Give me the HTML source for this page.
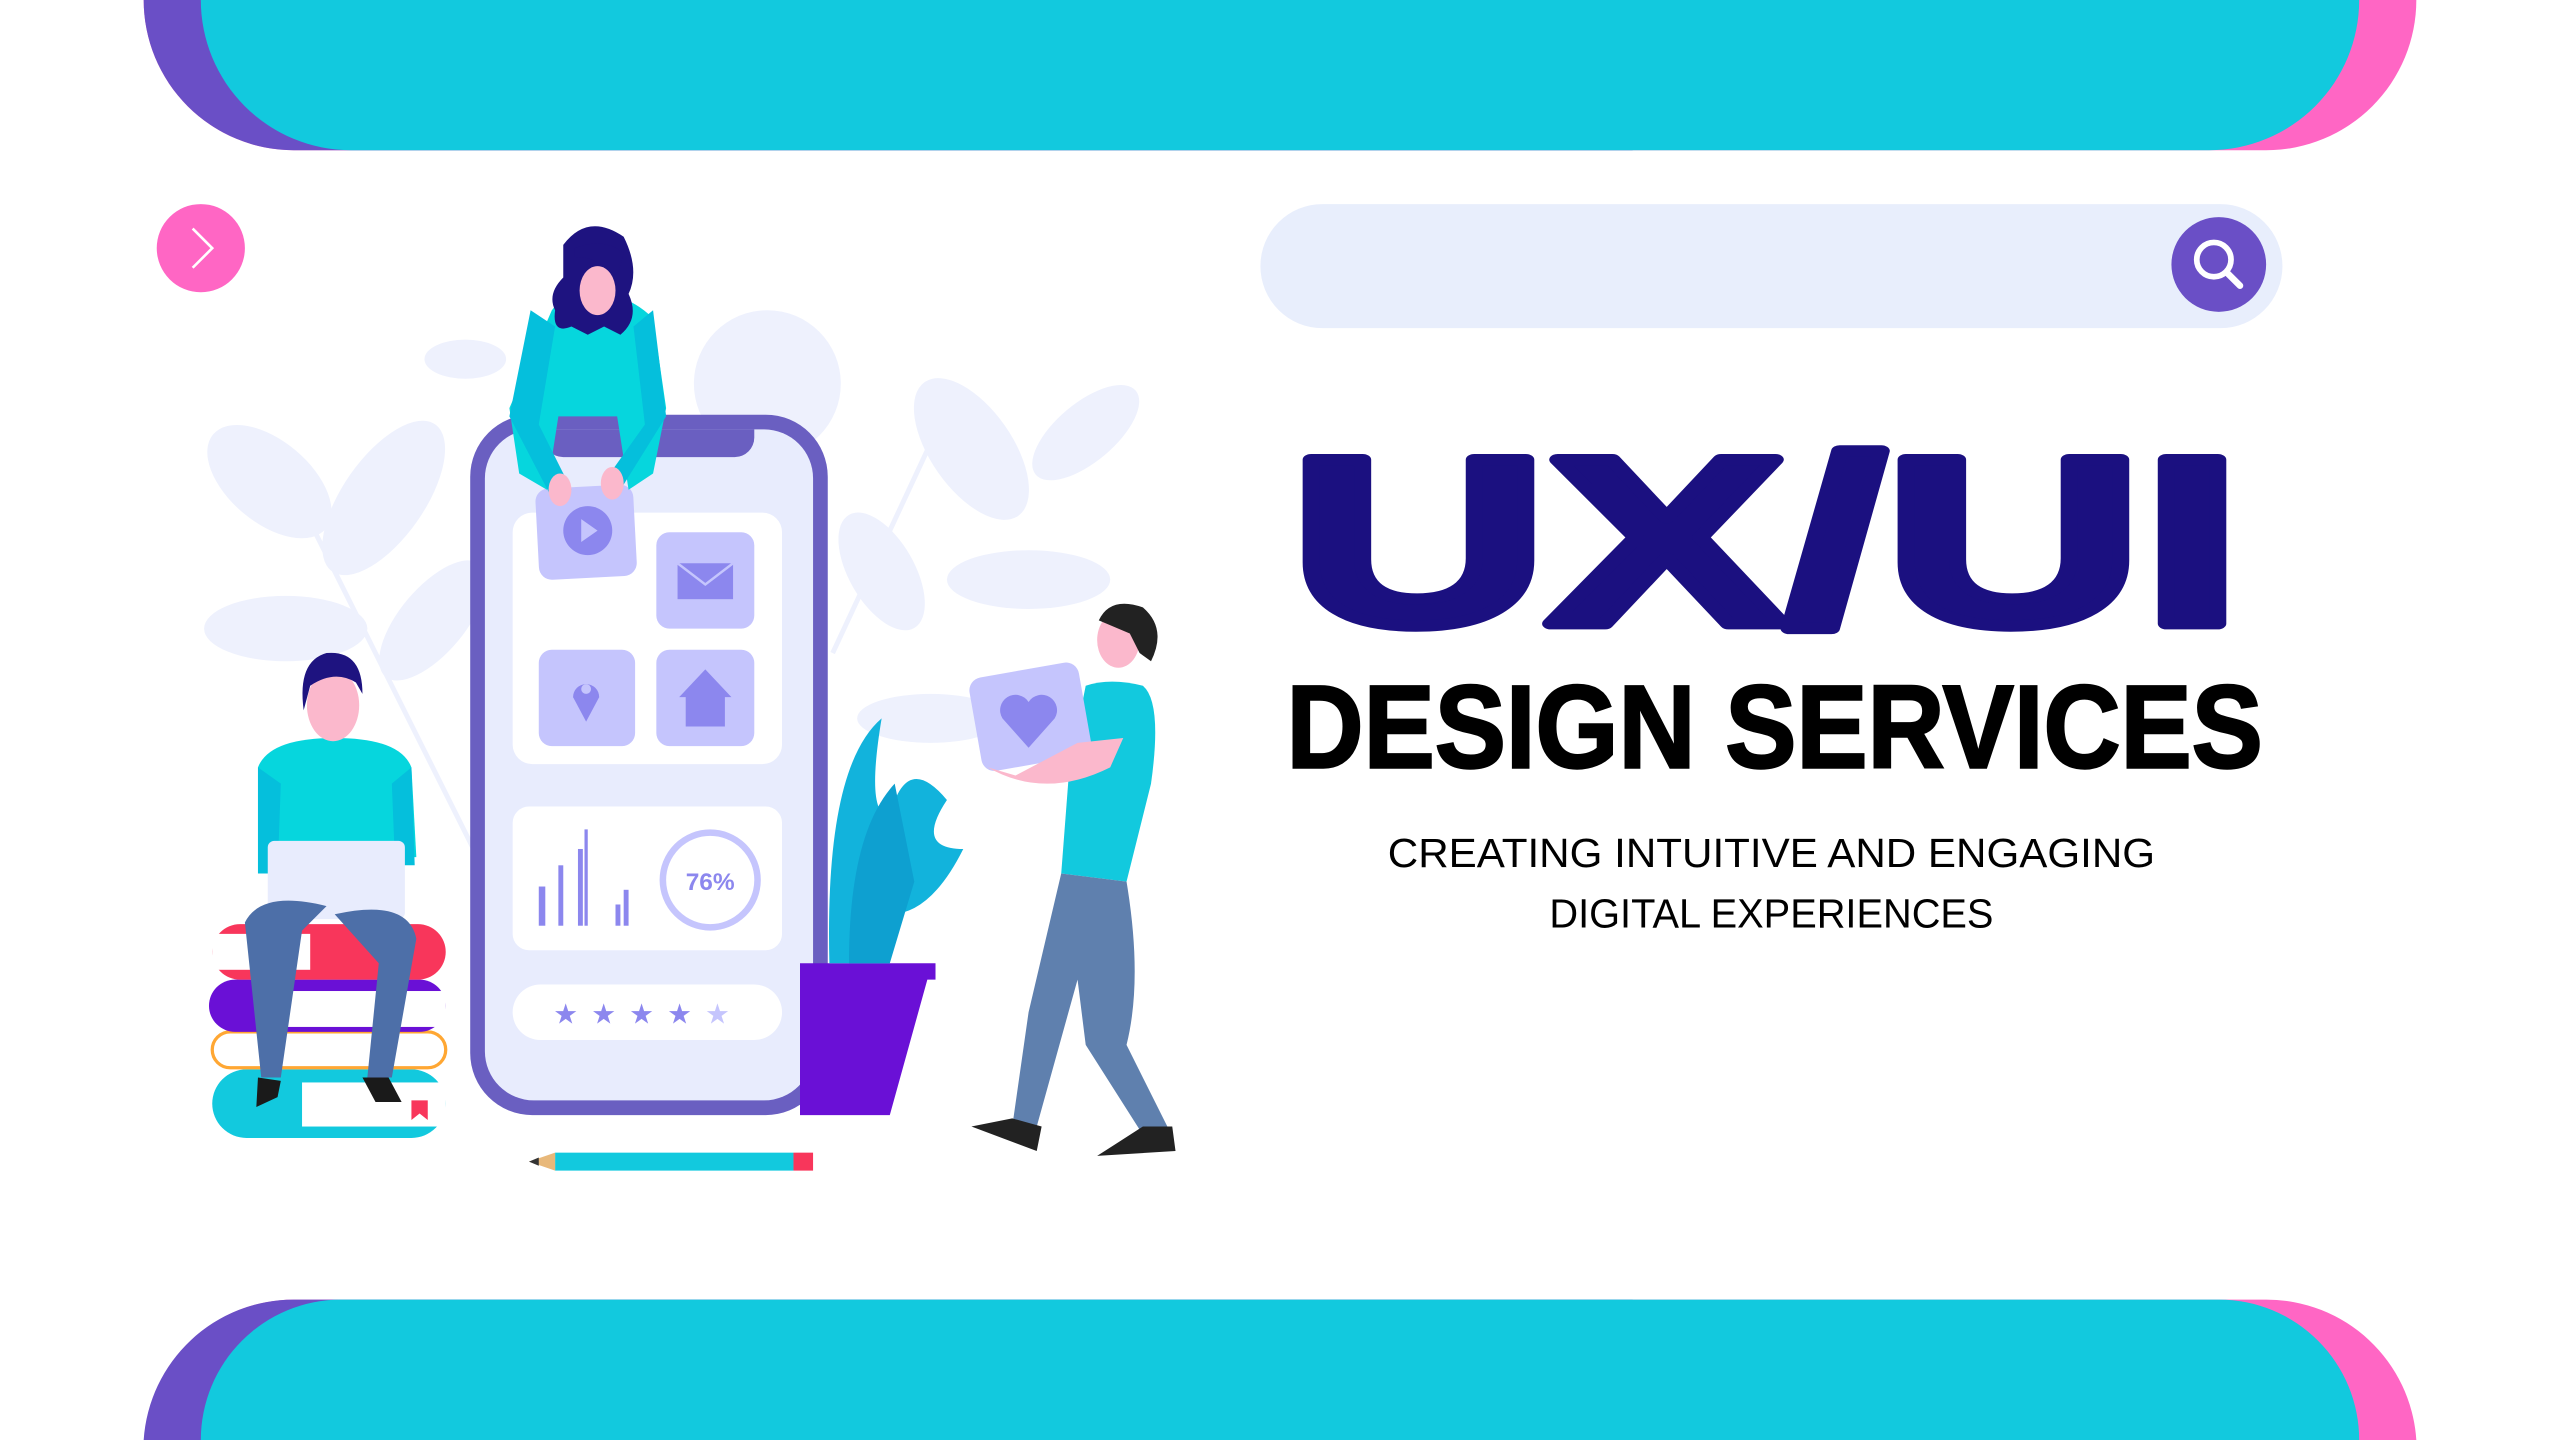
<!DOCTYPE html>
<html><head><meta charset="utf-8"><style>html,body{margin:0;padding:0;background:#fff;overflow:hidden}svg{display:block}</style></head>
<body>
<svg width="2560" height="1440" viewBox="0 0 1568 882" preserveAspectRatio="none" xmlns="http://www.w3.org/2000/svg">
<rect width="1568" height="882" fill="#fff"/>
<path d="M88 0 H1480 V0 A92 92 0 0 1 1388 92 H180 A92 92 0 0 1 88 0Z" fill="#ff66c4"/>
<path d="M88 0 H1000 V92 H180 A92 92 0 0 1 88 0Z" fill="#6a4fc6"/>
<path d="M123 0 H1445 A92 92 0 0 1 1353 92 H215 A92 92 0 0 1 123 0Z" fill="#12c9de"/>
<path d="M88 882 V888 A92 92 0 0 1 180 796 H1388 A92 92 0 0 1 1480 882Z" fill="#ff66c4"/>
<path d="M88 882 A92 92 0 0 1 180 796 H1000 V882Z" fill="#6a4fc6"/>
<path d="M123 882 A86 86 0 0 1 209 796 H1359 A86 86 0 0 1 1445 882Z" fill="#12c9de"/>
<circle cx="123" cy="152" r="27" fill="#ff66c4"/>
<path d="M118 140 L130 152 L118 164" fill="none" stroke="#fff" stroke-width="1.6"/>
<rect x="772" y="125" width="626" height="76" rx="38" fill="#e8eefc"/>
<circle cx="1359" cy="162" r="29" fill="#6a4fc6"/>
<circle cx="1356" cy="159" r="10.5" fill="none" stroke="#fff" stroke-width="3.5"/>
<path d="M1364 167 L1372 175" stroke="#fff" stroke-width="4" stroke-linecap="round"/>
<text x="790" y="382" font-family="Liberation Sans, sans-serif" font-weight="bold" font-size="146" fill="#1b1080" textLength="583" lengthAdjust="spacingAndGlyphs" stroke="#1b1080" stroke-width="7" stroke-linejoin="round">UX/UI</text>
<text x="788" y="470" font-family="Liberation Sans, sans-serif" font-weight="bold" font-size="72" fill="#000" textLength="598" lengthAdjust="spacingAndGlyphs" stroke="#000" stroke-width="1.5">DESIGN SERVICES</text>
<text x="850" y="531" font-family="Liberation Sans, sans-serif" font-size="25" fill="#000" textLength="470" lengthAdjust="spacingAndGlyphs">CREATING INTUITIVE AND ENGAGING</text>
<text x="949" y="568" font-family="Liberation Sans, sans-serif" font-size="25" fill="#000" textLength="272" lengthAdjust="spacingAndGlyphs">DIGITAL EXPERIENCES</text>
<g fill="#eef1fd">
<ellipse cx="165" cy="295" rx="45" ry="25" transform="rotate(40 165 295)"/>
<ellipse cx="235" cy="305" rx="55" ry="25" transform="rotate(-55 235 305)"/>
<ellipse cx="175" cy="385" rx="50" ry="20"/>
<ellipse cx="265" cy="380" rx="45" ry="20" transform="rotate(-50 265 380)"/>
<ellipse cx="595" cy="275" rx="50" ry="25" transform="rotate(55 595 275)"/>
<ellipse cx="665" cy="265" rx="40" ry="18" transform="rotate(-40 665 265)"/>
<ellipse cx="630" cy="355" rx="50" ry="18"/>
<ellipse cx="540" cy="350" rx="40" ry="20" transform="rotate(60 540 350)"/>
<ellipse cx="570" cy="440" rx="45" ry="15"/>
<circle cx="470" cy="235" r="45"/>
<ellipse cx="285" cy="220" rx="25" ry="12"/>
</g>
<path d="M190 320 L290 520 M580 250 L510 400" stroke="#eef1fd" stroke-width="3" fill="none"/>
<rect x="288" y="254" width="219" height="429" rx="38" fill="#6a5fc1"/>
<rect x="297" y="263" width="201" height="411" rx="30" fill="#e8ecfd"/>
<path d="M333 263 H462 V268 A12 12 0 0 1 450 280 H345 A12 12 0 0 1 333 268Z" fill="#6a5fc1"/>
<rect x="314" y="314" width="165" height="154" rx="12" fill="#fff"/>
<rect x="329" y="298" width="60" height="56" rx="8" fill="#c5c5fd" transform="rotate(-3 359 326)"/>
<circle cx="360" cy="325" r="15" fill="#8c87ee"/>
<path d="M356 318 L366 325 L356 332Z" fill="#c5c5fd"/>
<rect x="402" y="326" width="60" height="59" rx="8" fill="#c5c5fd"/>
<rect x="415" y="345" width="34" height="22" fill="#8c87ee"/>
<path d="M415 345 L432 358 L449 345" stroke="#c5c5fd" stroke-width="1.5" fill="none"/>
<rect x="330" y="398" width="59" height="59" rx="8" fill="#c5c5fd"/>
<path d="M359 442 L351 427 A8 8 0 1 1 367 427Z" fill="#8c87ee"/>
<circle cx="359" cy="422" r="3" fill="#c5c5fd"/>
<rect x="402" y="398" width="60" height="59" rx="8" fill="#c5c5fd"/>
<path d="M416 427 L432 410 L448 427 H444 V445 H420 V427Z" fill="#8c87ee"/>
<rect x="314" y="494" width="165" height="88" rx="10" fill="#fff"/>
<g fill="#8c87ee"><rect x="330" y="543" width="4" height="24"/><rect x="342" y="530" width="3" height="37"/><rect x="354" y="520" width="3" height="47"/><rect x="358" y="508" width="2" height="59"/><rect x="377" y="554" width="3" height="13"/><rect x="382" y="545" width="3" height="22"/></g>
<circle cx="435" cy="539" r="29" fill="none" stroke="#c5c5fd" stroke-width="4"/>
<text x="435" y="545" text-anchor="middle" font-family="Liberation Sans, sans-serif" font-weight="bold" font-size="15" fill="#8c87ee">76%</text>
<rect x="314" y="603" width="165" height="34" rx="17" fill="#fff"/>
<text x="397" y="627" text-anchor="middle" font-family="DejaVu Sans, sans-serif" font-size="17" fill="#8c87ee" letter-spacing="8">★★★★<tspan fill="#c5c5fd">★</tspan></text>
<path d="M338 190 Q345 180 365 180 Q385 180 400 195 L408 250 L400 290 L385 300 L378 255 L342 255 L335 300 L318 290 L312 250Z" fill="#06d6dd"/>
<path d="M312 255 L325 190 L340 200 L330 260 L350 300 L338 305Z M408 255 L400 190 L388 200 L395 260 L370 295 L380 300Z" fill="#05bfdc"/>
<path d="M345 150 Q360 130 382 145 Q392 165 385 180 Q392 195 380 205 L370 200 L360 205 L350 200 Q338 205 340 190 Q335 180 345 170Z" fill="#1e1380"/>
<ellipse cx="366" cy="178" rx="11" ry="15" fill="#fbb8cc"/>
<path d="M352 158 Q362 155 378 170 L382 155 Q370 145 352 152Z" fill="#1e1380"/>
<ellipse cx="343" cy="300" rx="7" ry="10" fill="#fbb8cc"/><ellipse cx="375" cy="296" rx="7" ry="10" fill="#fbb8cc"/>
<rect x="130" y="655" width="143" height="42" rx="21" fill="#12c9de"/><rect x="185" y="663" width="88" height="27" fill="#fff"/>
<rect x="130" y="632" width="143" height="22" rx="11" fill="#fff" stroke="#ffa733" stroke-width="2"/>
<rect x="128" y="600" width="145" height="32" rx="16" fill="#6a10d6"/><rect x="170" y="607" width="103" height="22" fill="#fff"/>
<rect x="130" y="566" width="143" height="34" rx="17" fill="#f8365b"/><rect x="130" y="572" width="60" height="22" fill="#fff"/>
<path d="M252 674 h10 v12 l-5 -4 l-5 4z" fill="#f8365b"/>
<path d="M158 470 Q165 452 205 452 Q245 452 252 470 L255 525 L160 525Z" fill="#06d6dd"/>
<path d="M158 470 L158 535 L170 535 L172 480Z M252 470 L254 530 L242 530 L240 480Z" fill="#05bfdc"/>
<ellipse cx="204" cy="432" rx="16" ry="22" fill="#fbb8cc"/>
<path d="M186 435 Q182 405 200 400 Q222 398 222 425 L218 418 Q205 410 190 420Z" fill="#1e1380"/>
<rect x="164" y="515" width="84" height="48" rx="4" fill="#e8ecfd"/>
<path d="M150 565 Q160 545 200 555 L185 570 L172 660 L160 660Z M205 560 Q250 550 255 575 L240 660 L225 660 L232 590Z" fill="#4d6fa8"/>
<path d="M158 660 L172 662 L170 672 L157 678Z M222 660 L238 660 L246 675 L230 675Z" fill="#1a1a1a"/>
<path d="M490 590 H573 V600 H568 L545 683 H490Z" fill="#6a10d6"/>
<path d="M508 590 Q505 470 540 440 Q530 500 545 500 Q555 460 580 490 Q560 520 590 520 Q570 560 545 560 L545 590Z" fill="#12b3dc"/>
<path d="M520 590 Q520 510 548 480 L560 540 L545 590Z" fill="#0ea0d0"/>
<path d="M665 420 Q680 415 700 420 Q712 430 705 480 L690 540 L650 535 L655 470Z" fill="#12c9de"/>
<path d="M650 535 L690 540 Q700 600 690 640 L715 690 L700 695 L665 640 L660 600 L635 690 L620 690 L630 620Z" fill="#5f80ae"/>
<path d="M620 685 L638 690 L635 705 L595 690Z M700 690 L718 690 L720 705 L672 708Z" fill="#222"/>
<ellipse cx="685" cy="392" rx="13" ry="17" fill="#fbb8cc"/>
<path d="M673 380 Q680 365 700 372 Q715 385 705 405 L698 400 L692 388Z" fill="#222"/>
<rect x="597" y="410" width="68" height="58" rx="8" fill="#c5c5fd" transform="rotate(-10 631 439)"/>
<path d="M630 458 L614 440 A8 8 0 0 1 630 430 A8 8 0 0 1 646 440Z" fill="#8c87ee"/>
<path d="M605 470 Q640 490 680 470 L688 452 L660 455 L622 475" fill="#fbb8cc"/>
<rect x="340" y="706" width="146" height="11" fill="#12c9de"/>
<rect x="486" y="706" width="12" height="11" fill="#f8365b"/>
<path d="M340 706 L324 711.5 L340 717Z" fill="#e8b87a"/>
<path d="M324 711.5 L330 709 L330 714Z" fill="#333"/>
</svg>
</body></html>
